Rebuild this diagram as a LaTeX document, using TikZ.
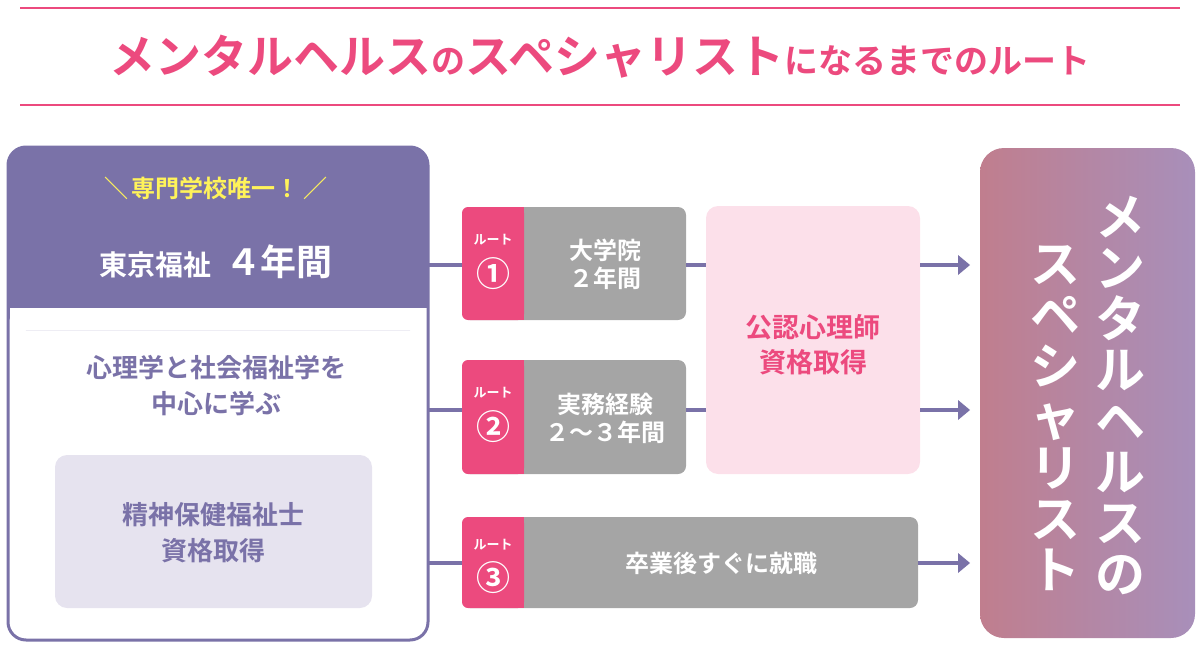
\documentclass[tikz,border=0pt]{standalone}
\usepackage{fontspec}
\setmainfont{Noto Sans CJK JP}[BoldFont={* Bold}]
\definecolor{pk}{HTML}{EC4A7E}
\definecolor{pu}{HTML}{7A72A8}
\definecolor{gr}{HTML}{A5A5A5}
\definecolor{lp}{HTML}{E6E3EF}
\definecolor{lpk}{HTML}{FCE0EA}
\definecolor{ye}{HTML}{FFF35A}
\definecolor{gl}{HTML}{C07E8E}
\definecolor{grr}{HTML}{A88FBA}
\usetikzlibrary{arrows.meta}
\begin{document}
\begin{tikzpicture}[x=1pt,y=-1pt,font=\bfseries,
 ln/.style={pu,line width=3.5pt},
 ar/.style={ln,-{Triangle[length=12pt,width=16pt,open]}},
 arr/.style={pu,line width=3.5pt,-{Stealth[length=12pt,width=20pt,inset=0pt,line width=0pt]}},
 tag/.style={fill=pk,rounded corners=6pt},
 grey/.style={fill=gr,rounded corners=8pt},
 fs/.style={font=\bfseries\fontsize{#1}{#1}\selectfont}]
\useasboundingbox (0,0) rectangle (1200,645);
\draw[pk,line width=2.5pt] (20,8) -- (1180,8);
\draw[pk,line width=2.5pt] (20,105) -- (1180,105);
\node[pk,anchor=center] (title) at (600,57) {\fontsize{46}{46}\selectfont メンタルヘルス\fontsize{34}{34}\selectfont の\fontsize{46}{46}\selectfont スペシャリスト\fontsize{34}{34}\selectfont になるまでのルート};
% left box
\fill[pu,rounded corners=18pt] (8,147) rectangle (428,330);
\fill[pu] (8,250) rectangle (428,308);
\fill[white] (9.5,308) rectangle (426.5,330);
\draw[pu,line width=3pt,rounded corners=18pt] (8,147) rectangle (428,640);
\node[ye,fs=24] (uni) at (216,188) {＼\,専門学校唯一！\,／};
\node[white] (tf) at (216,262) {\fontsize{28}{28}\selectfont 東京福祉\hspace{14pt}\fontsize{36}{36}\selectfont ４年間};
\node[pu,fs=26,align=center] (study) at (216,386) {心理学と社会福祉学を\\[10pt]中心に学ぶ};
\fill[lp,rounded corners=12pt] (55,455) rectangle (372,608);
\node[pu,fs=26,align=center] (seishin) at (213,533) {精神保健福祉士\\[10pt]資格取得};
% routes
\foreach \i/\ya/\yb/\xe in {1/207/320/686,2/360/474/686,3/517/608/918}{
 \fill[grey] (462,\ya) rectangle (\xe,\yb);
 \fill[tag] (462,\ya) rectangle (524,\yb);
 \fill[pk] (510,\ya) rectangle (524,\yb);
}
\node[white,fs=13] at (493,240) {ルート};
\node[white,fs=34] (r1) at (493,274) {①};
\node[white,fs=13] at (493,393) {ルート};
\node[white,fs=34] (r2) at (493,427) {②};
\node[white,fs=13] at (493,545) {ルート};
\node[white,fs=34] (r3) at (493,578) {③};
\node[white,fs=24,align=center] (g1) at (605,264) {大学院\\[4pt]２年間};
\node[white,fs=24,align=center] (g2) at (605,418) {実務経験\\[4pt]２〜３年間};
\node[white,fs=24] (g3) at (721,563) {卒業後すぐに就職};
\fill[lpk,rounded corners=12pt] (706,206) rectangle (920,474);
\node[pk,fs=27,align=center] (kou) at (813,345) {公認心理師\\[8pt]資格取得};
\coordinate (L1) at (428,265); \coordinate (R1) at (462,265);
\coordinate (L2) at (428,410); \coordinate (R2) at (462,410);
\coordinate (L3) at (428,563); \coordinate (R3) at (462,563);
\draw[ln] (L1) -- (R1); \draw[ln] (L2) -- (R2); \draw[ln] (L3) -- (R3);
\draw[ln] (686,265) -- (706,265); \draw[ln] (686,410) -- (706,410);
\coordinate (A1) at (970,265); \coordinate (A2) at (970,410); \coordinate (A3) at (970,563);
\draw[arr] (920,265) -- (A1); \draw[arr] (920,410) -- (A2); \draw[arr] (918,563) -- (A3);
% right box
\shade[left color=gl,right color=grr,rounded corners=24pt] (980,148) rectangle (1195,638);
\node[white,fs=50,align=center,inner sep=0pt] (c1) at (1120,395) {メ\\[1pt]ン\\[1pt]タ\\[1pt]ル\\[1pt]ヘ\\[1pt]ル\\[1pt]ス\\[1pt]の};
\node[white,fs=50,align=center,inner sep=0pt] (c2) at (1055,418) {ス\\[1pt]ペ\\[1pt]シ\\[1pt]ャ\\[1pt]リ\\[1pt]ス\\[1pt]ト};
\end{tikzpicture}
\end{document}
